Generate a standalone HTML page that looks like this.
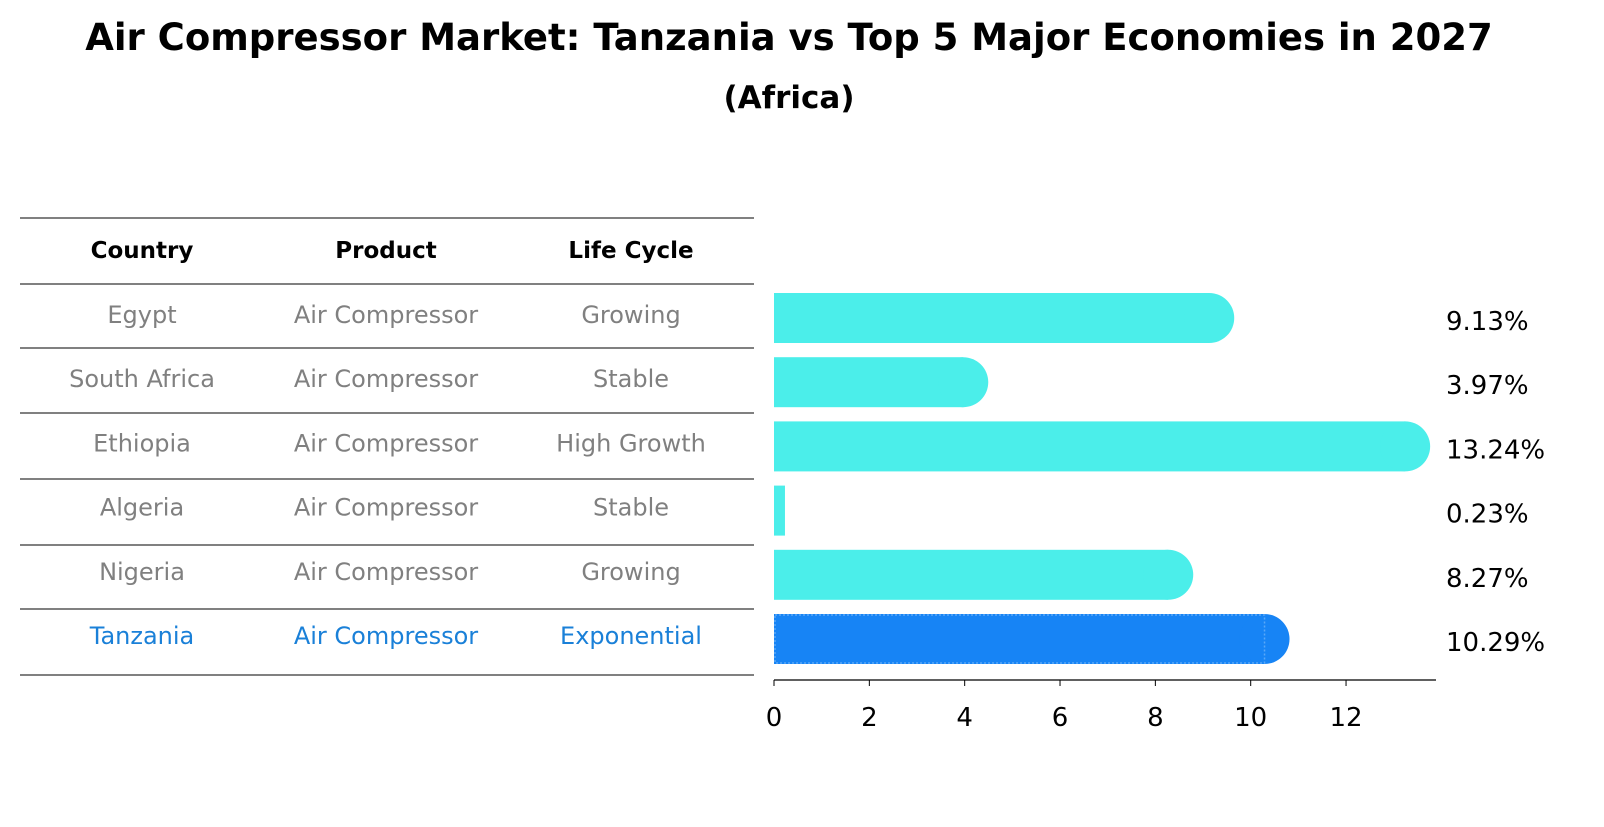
<!DOCTYPE html>
<html><head><meta charset="utf-8"><style>
body{margin:0;background:#fff;font-family:"DejaVu Sans","Liberation Sans",sans-serif;}
svg text{font-family:"DejaVu Sans","Liberation Sans",sans-serif;}
</style></head><body>
<svg id="chart" width="1604" height="823" xmlns="http://www.w3.org/2000/svg">
<text x="789" y="50" text-anchor="middle" font-size="37" font-weight="bold">Air Compressor Market: Tanzania vs Top 5 Major Economies in 2027</text>
<text x="789" y="108" text-anchor="middle" font-size="31" font-weight="bold">(Africa)</text>
<g id="table"></g>
<g id="bars"></g>
</svg>
<script>
const countries=["Egypt","South Africa","Ethiopia","Algeria","Nigeria","Tanzania"];
const products=["Air Compressor","Air Compressor","Air Compressor","Air Compressor","Air Compressor","Air Compressor"];
const lifeCycles=["Growing","Stable","High Growth","Stable","Growing","Exponential"];
const values=[9.13,3.97,13.24,0.23,8.27,10.29];
const valueLabels=["9.13%","3.97%","13.24%","0.23%","8.27%","10.29%"];
const ticks=[0,2,4,6,8,10,12];
const NS="http://www.w3.org/2000/svg";
function mk(t,a,p){const e=document.createElementNS(NS,t);for(const k in a)e.setAttribute(k,a[k]);p.appendChild(e);return e;}
const xs=v=>774+v*47.67;
const rowY=i=>318+i*64.2;
const tbl=document.getElementById('table');
const lineYs=[218,284,348,413,479,545,609,675];
lineYs.forEach(y=>{const l=mk('line',{x1:20,x2:754,y1:y,y2:y,stroke:'#000','stroke-width':1},tbl);

});
const colX=[142,386,631];
["Country","Product","Life Cycle"].forEach((h,j)=>{const t=mk('text',{x:colX[j],y:258,'text-anchor':'middle','font-size':23,'font-weight':'bold'},tbl);t.textContent=h;

});
countries.forEach((c,i)=>{const col=i===5?'#1a80d8':'#808080';
[c,products[i],lifeCycles[i]].forEach((s,j)=>{const t=mk('text',{x:colX[j],y:rowY(i)+5,'text-anchor':'middle','font-size':24,fill:col},tbl);t.textContent=s;

});});
const g=document.getElementById('bars');
const h=50,r=25;
values.forEach((v,i)=>{const yc=rowY(i),col=i===5?'#1784f5':'#4beeea';
const x1=xs(v);
const rect=mk('rect',{x:774,y:yc-h/2,width:x1-774,height:h,fill:col},g);


if(v>1){const c=mk('circle',{cx:x1,cy:yc,r:r,fill:col},g);

}
if(i===5){const d=mk('rect',{x:775,y:yc-h/2+1,width:x1-775,height:h-2,fill:'none',stroke:'#5aa8f8','stroke-width':1.5,'stroke-dasharray':'2,2'},g);

}
const t=mk('text',{x:1446,y:yc+12,'font-size':26},g);t.textContent=valueLabels[i];

});
const ax=mk('line',{x1:774,x2:1436,y1:680,y2:680,stroke:'#000','stroke-width':1.2},g);


ticks.forEach(tv=>{const l=mk('line',{x1:xs(tv),x2:xs(tv),y1:680,y2:686,stroke:'#000','stroke-width':1},g);


const t=mk('text',{x:xs(tv),y:726,'text-anchor':'middle','font-size':26},g);t.textContent=tv;

});
</script>
</body></html>
